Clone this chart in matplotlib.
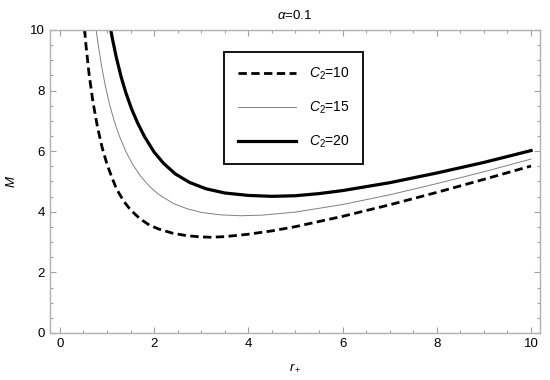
import matplotlib
matplotlib.use("Agg")
import matplotlib.pyplot as plt
from matplotlib.ticker import MultipleLocator

plt.rcParams['font.family'] = ['Liberation Sans', 'DejaVu Sans']
plt.rcParams['mathtext.fontset'] = 'custom'
plt.rcParams['mathtext.rm'] = 'Liberation Sans'
plt.rcParams['mathtext.it'] = 'Liberation Sans:italic'

# values
r_c10 = [0.48, 0.55, 0.62, 0.70, 0.80, 0.90, 1.00, 1.10, 1.20, 1.35, 1.50, 1.70, 1.90, 2.10,
         2.40, 2.70, 3.00, 3.20, 3.50, 4.00, 4.50, 5.00, 6.00, 7.00, 8.00, 9.00, 10.0]
m_c10 = [10.86, 9.55, 8.54, 7.64, 6.78, 6.10, 5.57, 5.15, 4.76, 4.36, 4.06, 3.77, 3.56, 3.43,
         3.29, 3.21, 3.17, 3.16, 3.18, 3.26, 3.37, 3.51, 3.85, 4.23, 4.64, 5.07, 5.51]

r_c15 = [0.74, 0.80, 0.88, 0.96, 1.05, 1.15, 1.25, 1.40, 1.55, 1.70, 1.90, 2.10, 2.40, 2.70,
         3.00, 3.40, 3.85, 4.30, 5.00, 6.00, 7.00, 8.00, 9.00, 10.0]
m_c15 = [10.37, 9.65, 8.85, 8.19, 7.57, 7.01, 6.55, 5.99, 5.55, 5.20, 4.84, 4.57, 4.28, 4.10,
         3.98, 3.90, 3.87, 3.89, 3.99, 4.24, 4.56, 4.93, 5.32, 5.74]

r_c20 = [0.98, 1.05, 1.12, 1.20, 1.30, 1.40, 1.52, 1.65, 1.80, 2.00, 2.20, 2.45, 2.75, 3.10,
         3.50, 4.00, 4.50, 5.00, 5.50, 6.00, 7.00, 8.00, 9.00, 10.0]
m_c20 = [10.90, 10.24, 9.67, 9.08, 8.45, 7.93, 7.40, 6.93, 6.47, 5.97, 5.60, 5.25, 4.97, 4.76,
         4.62, 4.54, 4.51, 4.53, 4.60, 4.70, 4.96, 5.28, 5.63, 6.02]

fig = plt.figure(figsize=(5.5, 3.8), dpi=100)
ax = fig.add_axes([0.0909, 0.1237, 0.8909, 0.7974])

ax.plot(r_c10, m_c10, color='black', lw=2.0, linestyle=(0, (3, 1.6)), label='$C_2$=10')
ax.plot(r_c15, m_c15, color='#808080', lw=0.7, label='$C_2$=15')
ax.plot(r_c20, m_c20, color='black', lw=2.3, label='$C_2$=20')

ax.set_xlim(-0.21, 10.19)
ax.set_ylim(0, 10)
ax.xaxis.set_major_locator(MultipleLocator(2))
ax.xaxis.set_minor_locator(MultipleLocator(0.5))
ax.yaxis.set_major_locator(MultipleLocator(2))
ax.yaxis.set_minor_locator(MultipleLocator(0.5))
ax.tick_params(which='both', direction='in', top=True, right=True, color='#a0a0a0',
               labelsize=9.5, width=0.8)
ax.tick_params(which='major', length=4)
ax.tick_params(which='minor', length=2.5)
for s in ax.spines.values():
    s.set_color('#b0b0b0')
    s.set_linewidth(1.0)

ax.set_title(r'$\alpha$=0.1', fontsize=9.5, pad=8)
ax.set_xlabel('$r_+$', fontsize=9.5, labelpad=9)
ax.set_ylabel('$M$', fontsize=9.5, labelpad=9)

leg = ax.legend(loc='upper left', bbox_to_anchor=(0.355, 0.927), borderaxespad=0,
                fontsize=10, handlelength=4.2, handletextpad=0.9, labelspacing=1.25,
                borderpad=1.0, fancybox=False, framealpha=1)
leg.get_frame().set_edgecolor('black')
leg.get_frame().set_linewidth(1.3)

fig.savefig('out.png', dpi=100)
